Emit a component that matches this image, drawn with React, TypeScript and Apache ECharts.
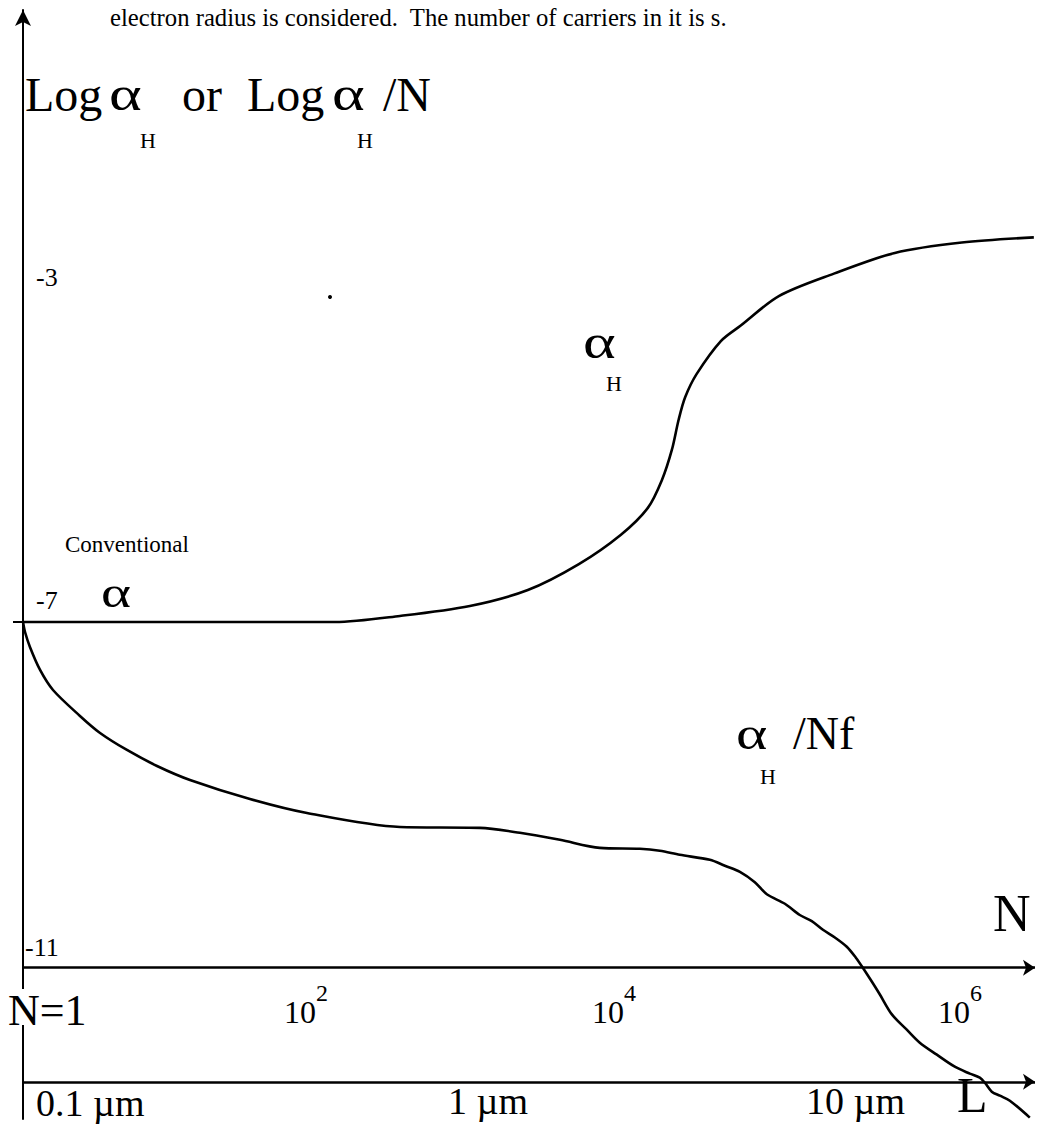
import React, { useEffect, useRef } from "react";
import * as echarts from "echarts";

// x = log10 N, y = log alpha
const upperX = [0, 2.158, 2.607, 3.091, 3.492, 3.845, 4.136, 4.322, 4.419, 4.488, 4.535, 4.58, 4.66, 4.827, 4.965, 5.228, 5.609, 6.03, 6.494, 6.992];
const upperY = [-7, -7, -6.93, -6.815, -6.63, -6.33, -5.99, -5.68, -5.36, -5.01, -4.66, -4.4, -4.13, -3.75, -3.57, -3.23, -2.97, -2.73, -2.61, -2.55];

const lowerX = [0, 0.014, 0.048, 0.118, 0.2075, 0.394, 0.533, 0.719, 0.927, 1.155, 1.57, 1.964, 2.608, 3.16, 3.437, 3.714, 3.99, 4.267, 4.405, 4.543, 4.751, 4.855, 4.959, 5.062, 5.145, 5.27, 5.373, 5.456, 5.533, 5.616, 5.698, 5.761, 5.809, 5.871, 5.927, 6.01, 6.113, 6.203, 6.321, 6.445, 6.549, 6.618, 6.653, 6.701, 6.757, 6.826, 6.964];
const lowerY = [-7, -7.116, -7.289, -7.555, -7.787, -8.087, -8.284, -8.481, -8.666, -8.828, -9.048, -9.21, -9.372, -9.382, -9.439, -9.52, -9.613, -9.624, -9.647, -9.694, -9.751, -9.82, -9.89, -10.01, -10.15, -10.26, -10.39, -10.46, -10.56, -10.65, -10.757, -10.884, -11.0, -11.16, -11.31, -11.54, -11.717, -11.867, -12.006, -12.145, -12.225, -12.272, -12.33, -12.434, -12.48, -12.538, -12.734];

const nAxisLevel = -11;
const lAxisLevel = -12.318;
const yTickLabels = ["-3", "-7", "-11"];
const nTickMantissa = ["10", "10", "10"];
const nTickExponents = ["2", "4", "6"];
const lTickLabels = ["0.1 \u00b5m", "1 \u00b5m", "10 \u00b5m"];
const captionText = "electron radius is considered.  The number of carriers in it is s.";

const SERIF = '"Liberation Serif", "Times New Roman", serif';

function txt(text: string, x: number, y: number, size: number, extra: any = {}, el: any = {}) {
  return {
    type: "text",
    x,
    y,
    z: 100,
    silent: true,
    ...el,
    style: {
      text,
      font: `${size}px ${SERIF}`,
      fill: "#000",
      align: "left",
      verticalAlign: "middle",
      textAlign: "left",
      textVerticalAlign: "middle",
      ...extra,
    },
  };
}

function alpha(x: number, y: number, size: number) {
  return txt("\u03b1", x, y, size, {}, { scaleX: 1.3 });
}

export default function App() {
  const ref = useRef<HTMLDivElement>(null);
  useEffect(() => {
    if (!ref.current) return;
    const chart = echarts.init(ref.current, null, { renderer: "svg" });
    const upper = upperX.map((x, i) => [x, upperY[i]]);
    const lower = lowerX.map((x, i) => [x, lowerY[i]]);
    const graphics: any[] = [
      txt(captionText, 110, 17, 24.7),
      txt("Log", 25, 94, 48),
      alpha(109, 94, 48),
      txt("or", 182, 94, 48),
      txt("Log", 247, 94, 48),
      alpha(332, 94, 48),
      txt("/N", 383, 94, 48),
      txt("H", 140, 140, 22),
      txt("H", 357, 140, 22),
      txt(yTickLabels[0], 36, 277, 26),
      {
        type: "circle",
        z: 100,
        silent: true,
        shape: { cx: 330, cy: 297, r: 2 },
        style: { fill: "#000" },
      },
      txt("Conventional", 65, 544, 23),
      txt(yTickLabels[1], 36, 600, 26),
      alpha(101, 592, 44),
      alpha(583, 342, 48),
      txt("H", 606, 383, 22),
      alpha(736, 733, 46),
      txt("/Nf", 793, 733, 46),
      txt("H", 760, 776, 22),
      txt("N", 993, 913, 52),
      txt(yTickLabels[2], 25, 947, 26),
      {
        type: "rect",
        z: 99,
        silent: true,
        shape: { x: 18, y: 989, width: 12, height: 36 },
        style: { fill: "#fff" },
      },
      txt("N=1", 8, 1010, 44),
      txt(nTickMantissa[0], 284, 1012, 32),
      txt(nTickExponents[0], 316, 993, 24),
      txt(nTickMantissa[1], 592, 1012, 32),
      txt(nTickExponents[1], 624, 993, 24),
      txt(nTickMantissa[2], 938, 1012, 32),
      txt(nTickExponents[2], 970, 993, 24),
      txt(lTickLabels[0], 36, 1103, 38),
      txt(lTickLabels[1], 448, 1101, 38),
      txt(lTickLabels[2], 806, 1101, 38),
      txt("L", 957, 1095, 50),
    ];
    chart.setOption({
      animation: false,
      backgroundColor: "#fff",
      grid: { left: 23, right: 4, top: 10, bottom: 7, containLabel: false },
      xAxis: {
        type: "value",
        min: 0,
        max: 7,
        show: false,
      },
      yAxis: {
        type: "value",
        min: -12.75,
        max: 0.08,
        axisLine: {
          show: true,
          onZero: false,
          symbol: ["none", "arrow"],
          symbolSize: [12, 16],
          lineStyle: { color: "#000", width: 2 },
        },
        axisTick: {
          show: true,
          customValues: [-7],
          length: 10,
          lineStyle: { color: "#000", width: 2 },
        },
        axisLabel: { show: false },
        splitLine: { show: false },
      },
      series: [
        {
          name: "alpha_H",
          type: "line",
          data: upper,
          showSymbol: false,
          smooth: 0.3,
          lineStyle: { color: "#000", width: 2.6 },
          z: 3,
        },
        {
          name: "alpha_H/Nf",
          type: "line",
          data: lower,
          showSymbol: false,
          smooth: 0.3,
          lineStyle: { color: "#000", width: 2.6 },
          z: 3,
          markLine: {
            silent: true,
            symbol: ["none", "arrow"],
            symbolSize: 12,
            label: { show: false },
            lineStyle: { color: "#000", width: 2.5, type: "solid" },
            data: [{ yAxis: nAxisLevel }, { yAxis: lAxisLevel }],
          },
        },
      ],
      graphic: graphics,
    });
    return () => chart.dispose();
  }, []);
  return (
    <div
      ref={ref}
      style={{ position: "absolute", left: 0, top: 0, width: 1039, height: 1126 }}
    />
  );
}
